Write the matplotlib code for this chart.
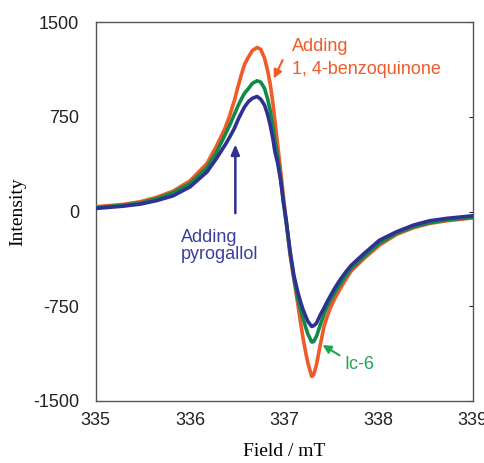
import matplotlib
matplotlib.use("Agg")
import matplotlib.pyplot as plt

field = [335.00, 335.29, 335.47, 335.64, 335.82, 336.00, 336.18, 336.28, 336.37, 336.42,
         336.47, 336.51, 336.55, 336.58, 336.62, 336.66, 336.71, 336.75, 336.79, 336.82,
         336.85, 336.88, 336.90, 336.93, 336.96, 336.99, 337.02, 337.06, 337.10, 337.14,
         337.17, 337.20, 337.23, 337.25, 337.29, 337.31, 337.34, 337.38, 337.42, 337.45,
         337.49, 337.54, 337.59, 337.65, 337.71, 337.84, 338.01, 338.19, 338.37, 338.54,
         338.72, 339.00]

benzoquinone = [38, 57, 78, 112, 162, 244, 382, 519, 659, 760,
                880, 995, 1100, 1170, 1225, 1275, 1300, 1285, 1215, 1125,
                1010, 850, 720, 520, 330, 120, -80, -340, -530, -720,
                -870, -1010, -1130, -1200, -1305, -1295, -1215, -1060, -912, -840,
                -760, -680, -615, -540, -470, -375, -265, -181, -128, -94,
                -73, -50]

ic6 = [32, 50, 68, 100, 149, 223, 350, 469, 606, 685,
       770, 840, 900, 940, 975, 1015, 1036, 1025, 975, 900,
       800, 665, 560, 430, 270, 70, -90, -320, -520, -680,
       -770, -850, -925, -970, -1033, -1030, -990, -900, -815, -760,
       -700, -635, -578, -510, -450, -360, -250, -172, -120, -88,
       -66, -45]

pyrogallol = [25, 43, 59, 86, 125, 196, 315, 421, 526, 590,
              660, 730, 790, 832, 872, 897, 912, 890, 843, 775,
              685, 570, 474, 380, 250, 80, -70, -310, -500, -630,
              -710, -780, -835, -870, -910, -905, -885, -820, -765, -720,
              -665, -600, -542, -480, -425, -336, -226, -160, -107, -73,
              -54, -33]

xticks = [335, 336, 337, 338, 339]
yticks = [-1500, -750, 0, 750, 1500]

orange = "#F15A29"
green = "#108A48"
green_txt = "#1DA652"
blue = "#2E3192"
blue_txt = "#3A3F9E"

plt.rcParams['font.family'] = ['Liberation Sans', 'DejaVu Sans']

fig = plt.figure(figsize=(4.84, 4.63), dpi=100)
ax = fig.add_axes([0.198, 0.134, 0.779, 0.818])

ax.plot(field, benzoquinone, color=orange, lw=2.6, solid_capstyle='round', solid_joinstyle='round', zorder=3)
ax.plot(field, ic6, color=green, lw=2.6, solid_capstyle='round', solid_joinstyle='round', zorder=4)
ax.plot(field, pyrogallol, color=blue, lw=2.6, solid_capstyle='round', solid_joinstyle='round', zorder=5)

ax.set_xlim(335, 339)
ax.set_ylim(-1500, 1500)
ax.set_xticks(xticks)
ax.set_yticks(yticks)
ax.set_xticklabels([str(v) for v in xticks])
ax.set_yticklabels([str(v) for v in yticks])
ax.tick_params(axis='both', labelsize=13, colors='#222222', length=0)
ax.tick_params(axis='x', pad=8)
ax.tick_params(axis='y', pad=12)
ax.tick_params(axis='y', right=True, direction='in', length=3, width=0.8)
ax.tick_params(axis='y', left=False)
for s in ax.spines.values():
    s.set_color('#555555')
    s.set_linewidth(1.0)

ax.set_xlabel("Field / mT", family=['Liberation Serif', 'DejaVu Serif'], fontsize=14, labelpad=10)
ax.set_ylabel("Intensity", family=['Liberation Serif', 'DejaVu Serif'], fontsize=14, labelpad=5)

# annotations
ax.annotate("", xy=(336.875, 1035), xytext=(336.995, 1220),
            arrowprops=dict(arrowstyle="-|>,head_length=0.5,head_width=0.25", color=orange, lw=1.5))
ax.text(337.08, 1215, "Adding\n1, 4-benzoquinone", color=orange, fontsize=13,
        va='center', ha='left', linespacing=1.5)

ax.annotate("", xy=(336.48, 555), xytext=(336.48, -35),
            arrowprops=dict(arrowstyle="-|>,head_length=0.6,head_width=0.25", color=blue, lw=1.8))
ax.text(335.90, -270, "Adding\npyrogallol", color=blue_txt, fontsize=13,
        va='center', ha='left', linespacing=1.0)

ax.annotate("", xy=(337.38, -1045), xytext=(337.61, -1150),
            arrowprops=dict(arrowstyle="-|>,head_length=0.5,head_width=0.25", color=green_txt, lw=1.5))
ax.text(337.64, -1210, "Ic-6", color=green_txt, fontsize=13, va='center', ha='left')

fig.savefig("out.png", dpi=100)
